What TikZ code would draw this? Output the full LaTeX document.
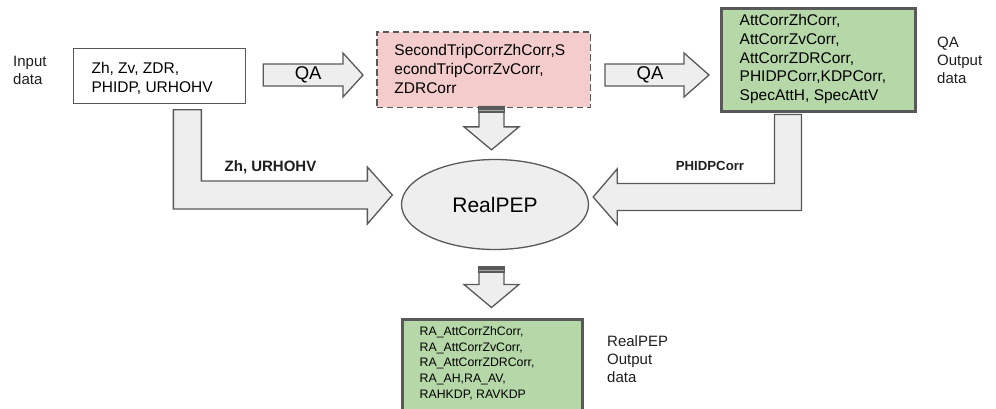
\documentclass[tikz,border=0pt]{standalone}
\usepackage{fontspec}
\setmainfont{Liberation Sans}
\usetikzlibrary{calc,shapes.geometric}

\definecolor{edge}{HTML}{595959}
\definecolor{arrowfill}{HTML}{EEEEEE}
\definecolor{pinkfill}{HTML}{F4CCCC}
\definecolor{greenfill}{HTML}{B6D7A8}
\definecolor{bandline}{HTML}{A8A8A8}

% right-pointing block arrow: tail centre, tip, half body, half head, head length
\newcommand\rblock[5]{%
  \draw[blk] ($(#1)+(0,-#3)$) -- ($(#2)+(-#5,-#3)$) -- ($(#2)+(-#5,-#4)$) -- (#2)
    -- ($(#2)+(-#5,#4)$) -- ($(#2)+(-#5,#3)$) -- ($(#1)+(0,#3)$) -- cycle;}

% downward block arrow with a dark band on its tail: tail centre, tip
\newcommand\dblock[2]{%
  \draw[blk] ($(#1)+(-12.5,0)$) -- ($(#1)+(12.5,0)$) -- ($(#2)+(12.5,-23)$)
    -- ($(#2)+(27.5,-23)$) -- (#2) -- ($(#2)+(-27.5,-23)$) -- ($(#2)+(-12.5,-23)$) -- cycle;
  \fill[edge] ($(#1)+(-13.1,-0.6)$) rectangle ($(#1)+(13.1,6.5)$);
  \draw[bandline, line width=1pt] ($(#1)+(-12.5,4.2)$) -- ($(#1)+(12.5,4.2)$);}

\begin{document}
\begin{tikzpicture}[x=1pt, y=-1pt,
  box/.style={rectangle, draw=edge, inner sep=0pt},
  inbox/.style={box, fill=white, line width=1.3pt, minimum width=172pt, minimum height=55pt},
  tripbox/.style={box, fill=pinkfill, line width=1.5pt, dash pattern=on 6.5pt off 3.5pt,
                  minimum width=213.5pt, minimum height=75.5pt},
  outbox/.style={box, fill=greenfill, line width=3pt},
  blk/.style={draw=edge, fill=arrowfill, line width=1.3pt, line join=miter},
  % multi-line texts are placed by the baseline of their last line
  txt/.style={inner sep=0pt, align=left, anchor=base west, text=black},
  bigtxt/.style={txt, font=\fontsize{15.5}{18.7}\selectfont},
  sidetxt/.style={txt, text=black!88, font=\fontsize{15}{17.5}\selectfont},
  flowlbl/.style={inner sep=0pt, text=black!88, font=\bfseries\fontsize{15}{18}\selectfont},
  qalbl/.style={inner sep=0pt, text=black, font=\fontsize{18.5}{22}\selectfont}]

\useasboundingbox (0,0) rectangle (996,408);
\fill[white] (0,0) rectangle (996,408);

% data boxes
\node[inbox] (input) at (159.5,76) {};
\node[tripbox] (trip) at (483.5,69.5) {};
\node[outbox, minimum width=194pt, minimum height=103pt] (qaout) at (818.5,60) {};
\node[outbox, minimum width=180pt, minimum height=100pt] (raout) at (492.5,369.5) {};
\node[ellipse, draw=edge, fill=arrowfill, line width=1.3pt, inner sep=0pt,
      minimum width=187pt, minimum height=90pt,
      font=\fontsize{21}{25}\selectfont] (real) at (495,204.5) {RealPEP\hspace{10pt}};

% QA block arrows
\coordinate (qa1tail) at ($(input.east)+(17,-1)$);
\coordinate (qa1tip) at ($(trip.west |- qa1tail)+(-13,0)$);
\rblock{qa1tail}{qa1tip}{11}{22}{20}
\coordinate (qa2tail) at ($(trip.east |- qa1tail)+(14,0)$);
\coordinate (qa2tip) at ($(qaout.west |- qa1tail)+(-11,0)$);
\rblock{qa2tail}{qa2tip}{11}{22}{25}
\node[qalbl] (qa1lbl) at ($(qa1tail)+(45,0)$) {QA};
\node[qalbl] (qa2lbl) at ($(qa2tail)+(45,0)$) {QA};

% vertical block arrows into and out of RealPEP
\coordinate (tripout) at ($(trip.south)+(8,-1.5)$);
\coordinate (realin) at ($(real.north)+(-3.5,-9)$);
\dblock{tripout}{realin}
\coordinate (realout) at ($(real.south)+(-3.5,16.5)$);
\coordinate (rain) at ($(raout.north)+(-1,-10.5)$);
\dblock{realout}{rain}

% L-shaped arrow from the input data
\coordinate (zhTop) at ($(input.south west)+(114.5,5.5)$);
\coordinate (zhTip) at ($(real.west)+(-8.5,-9.5)$);
\coordinate (zhL) at ($(zhTop)+(-14,0)$);
\coordinate (zhR) at ($(zhTop)+(14,0)$);
\coordinate (zhU) at ($(zhTip)+(0,-14)$);
\coordinate (zhD) at ($(zhTip)+(0,14)$);
\draw[blk] (zhL) -- (zhR) -- (zhR |- zhU) -- ($(zhTip)+(-25,-14)$) -- ($(zhTip)+(-25,-28)$)
  -- (zhTip) -- ($(zhTip)+(-25,29)$) -- ($(zhTip)+(-25,14)$) -- (zhL |- zhD) -- cycle;

% L-shaped arrow from the QA output data
\coordinate (phTop) at ($(qaout.south west)+(68,1.5)$);
\coordinate (phTip) at ($(real.east)+(4,-7.5)$);
\coordinate (phL) at ($(phTop)+(-13.5,0)$);
\coordinate (phR) at ($(phTop)+(13.5,0)$);
\coordinate (phU) at ($(phTip)+(0,-13.5)$);
\coordinate (phD) at ($(phTip)+(0,13.5)$);
\draw[blk] (phL) -- (phR) -- (phR |- phD) -- ($(phTip)+(24,13.5)$) -- ($(phTip)+(24,27.5)$)
  -- (phTip) -- ($(phTip)+(24,-28)$) -- ($(phTip)+(24,-13.5)$) -- (phL |- phU) -- cycle;

\node[flowlbl] (zhlbl) at (270.5,167) {Zh, URHOHV};
\node[flowlbl, font=\bfseries\fontsize{13.2}{16}\selectfont] (phlbl) at (710,166) {PHIDPCorr};

% box contents
\node[bigtxt] (inputtxt) at ($(input.north west)+(18.5,44.5)$) {Zh, Zv, ZDR,\\PHIDP, URHOHV};
\node[bigtxt, font=\fontsize{15.5}{19}\selectfont] (triptxt) at ($(trip.north west)+(18.25,62.25)$)
  {SecondTripCorrZhCorr,S\\econdTripCorrZvCorr,\\ZDRCorr};
\node[bigtxt] (qaouttxt) at ($(qaout.north west)+(19.5,93.5)$)
  {AttCorrZhCorr,\\AttCorrZvCorr,\\AttCorrZDRCorr,\\PHIDPCorr,KDPCorr,\\SpecAttH, SpecAttV};
\node[txt, font=\fontsize{12.3}{15.8}\selectfont] (raouttxt) at ($(raout.north west)+(18.5,80.5)$)
  {RA\_AttCorrZhCorr,\\RA\_AttCorrZvCorr,\\RA\_AttCorrZDRCorr,\\RA\_AH,RA\_AV,\\RAHKDP, RAVKDP};

% side captions
\node[sidetxt] (inlabel) at (13,84) {Input\\data};
\node[sidetxt, font=\fontsize{15}{18}\selectfont] (qalabel) at (937,83) {QA\\Output\\data};
\node[sidetxt, font=\fontsize{15}{18}\selectfont] (rplabel) at (607,382) {RealPEP\\Output\\data};
\end{tikzpicture}
\end{document}
